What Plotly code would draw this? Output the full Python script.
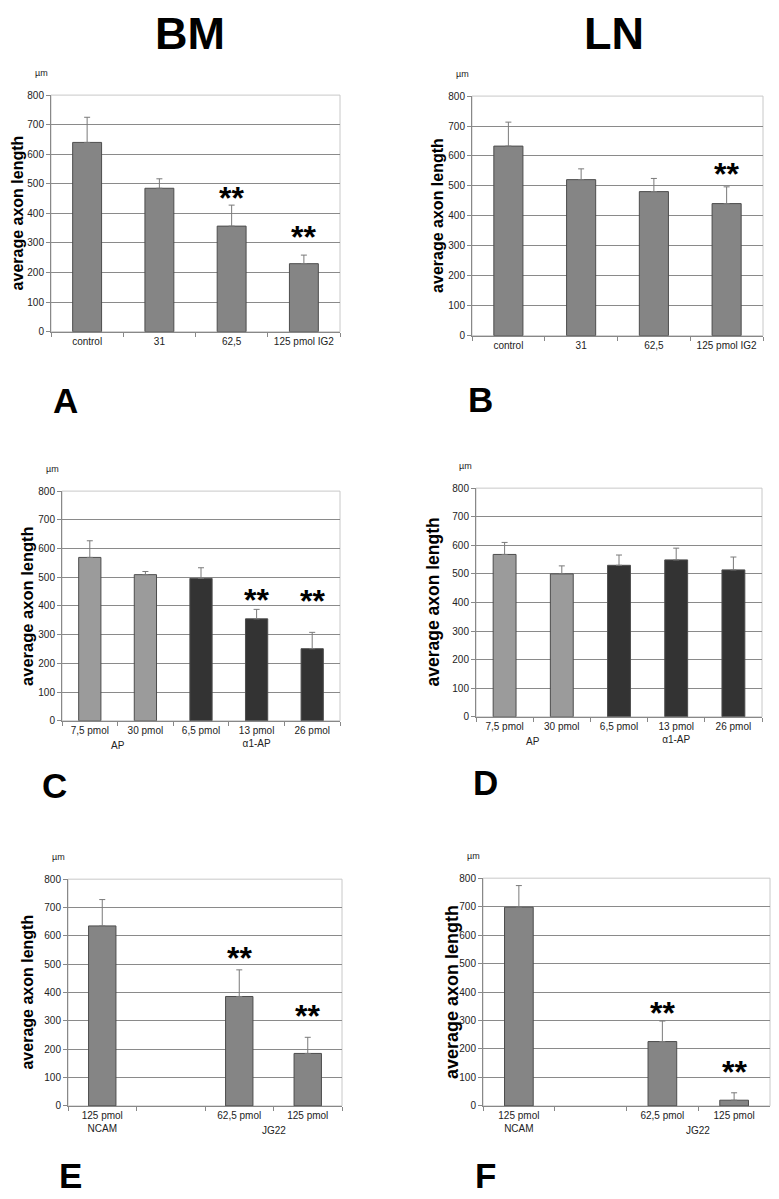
import plotly.graph_objects as go

W, H = 779, 1199
FONT = "Arial, Liberation Sans, sans-serif"

# ---- data ----
A_LABELS = ["control", "31", "62,5", "125 pmol IG2"]
A_MEAN = [640, 485, 357, 230]
A_SD = [85, 32, 71, 29]
A_STARS = [None, None, 463, 331]

B_LABELS = ["control", "31", "62,5", "125 pmol IG2"]
B_MEAN = [633, 521, 481, 441]
B_SD = [80, 36, 44, 56]
B_STARS = [None, None, None, 550]

C_LABELS = ["7,5 pmol", "30 pmol", "6,5 pmol", "13 pmol<br>α1-AP", "26 pmol"]
C_MEAN = [569, 509, 496, 355, 251]
C_SD = [58, 11, 37, 33, 57]
C_STARS = [None, None, None, 432, 428]

D_LABELS = ["7,5 pmol", "30 pmol", "6,5 pmol", "13 pmol<br>α1-AP", "26 pmol"]
D_MEAN = [568, 500, 530, 549, 514]
D_SD = [42, 28, 36, 41, 45]
D_STARS = [None, None, None, None, None]

E_LABELS = ["125 pmol<br>NCAM", "", "62,5 pmol", "125 pmol"]
E_MEAN = [635, None, 386, 185]
E_SD = [93, None, 94, 57]
E_STARS = [None, None, 533, 329]

F_LABELS = ["125 pmol<br>NCAM", "", "62,5 pmol", "125 pmol"]
F_MEAN = [698, None, 226, 20]
F_SD = [76, None, 72, 26]
F_STARS = [None, None, 336, 130]

AP_GROUP = ["AP", "AP", "α1-AP", "α1-AP", "α1-AP"]
Y_TICKS = [0, 100, 200, 300, 400, 500, 600, 700, 800]

MID_GREY = "#858585"
LIGHT_GREY = "#9b9b9b"
DARK_GREY = "#333333"

# panel boxes in pixels: (left, right, top, bottom)
BOXES = {
    "A": (51, 340, 90, 329),
    "B": (472, 763, 91, 333),
    "C": (62, 340, 490, 722),
    "D": (476, 762, 487, 718),
    "E": (68, 342, 882, 1111),
    "F": (483, 770, 881, 1111),
}
# y title: (centre x in px, font size)
YTITLE = {"A": (17, 16), "B": (438, 16), "C": (27, 16.5),
          "D": (433, 17.5), "E": (28, 16), "F": (452, 18)}


def px(x, y):
    return x / W, 1 - y / H


panels = [
    ("A", A_LABELS, A_MEAN, A_SD, A_STARS, None),
    ("B", B_LABELS, B_MEAN, B_SD, B_STARS, None),
    ("C", C_LABELS, C_MEAN, C_SD, C_STARS, AP_GROUP),
    ("D", D_LABELS, D_MEAN, D_SD, D_STARS, AP_GROUP),
    ("E", E_LABELS, E_MEAN, E_SD, E_STARS, None),
    ("F", F_LABELS, F_MEAN, F_SD, F_STARS, None),
]

fig = go.Figure()
annotations = []
layout = {}

for i, (name, labels, mean, sd, stars, groups) in enumerate(panels):
    k = "" if i == 0 else str(i + 1)
    xa, ya = "x" + k, "y" + k
    keys = [f"{name}{j}" for j in range(len(labels))]
    if groups is None:
        colors = MID_GREY
    else:
        colors = [LIGHT_GREY if g == "AP" else DARK_GREY for g in groups]

    fig.add_trace(go.Bar(
        x=keys, y=mean, xaxis=xa, yaxis=ya,
        marker=dict(color=colors, line=dict(color="#4d4d4d", width=1)),
        error_y=dict(type="data", symmetric=False, array=sd,
                     arrayminus=[0] * len(sd), color="#7a7a7a",
                     thickness=1, width=3),
        showlegend=False, hoverinfo="skip",
    ))

    l, r, t, b = BOXES[name]
    x0, _ = px(l, 0)
    x1, _ = px(r, 0)
    _, y1 = px(0, t)
    _, y0 = px(0, b)

    layout["xaxis" + k] = dict(
        domain=[x0, x1], anchor=ya, type="category",
        categoryorder="array", categoryarray=keys,
        tickmode="array", tickvals=keys, ticktext=labels,
        tickson="boundaries", ticks="outside", ticklen=4, tickcolor="#888",
        showline=True, linecolor="#888", linewidth=1,
        mirror=False, showgrid=False, zeroline=False,
        tickfont=dict(family=FONT, size=10, color="#222"),
        fixedrange=True,
    )
    layout["yaxis" + k] = dict(
        domain=[y0, y1], anchor=xa, range=[0, 800],
        tickmode="array", tickvals=Y_TICKS,
        ticks="outside", ticklen=4, tickcolor="#888",
        showline=True, linecolor="#888", linewidth=1,
        showgrid=True, gridcolor="#8a8a8a", gridwidth=1, zeroline=False,
        tickfont=dict(family=FONT, size=10, color="#222"),
        fixedrange=True,
    )

    # light frame on top and right
    fig.add_shape(type="rect", xref=xa + " domain", yref=ya + " domain",
                  x0=0, x1=1, y0=0, y1=1,
                  line=dict(color="#c8c8c8", width=1), layer="below")

    # significance marks
    for j, s in enumerate(stars):
        if s is not None:
            annotations.append(dict(
                x=keys[j], y=s, xref=xa, yref=ya, text="<b>**</b>",
                showarrow=False, yanchor="middle", yshift=-3,
                font=dict(family=FONT, size=32, color="#000"),
            ))

    # group labels centred between categories
    if name in ("C", "D"):
        annotations.append(dict(
            x=0.5, y=0, xref=xa, yref=ya, text="AP", showarrow=False,
            yanchor="top", yshift=-17,
            font=dict(family=FONT, size=10, color="#222"),
        ))
    if name in ("E", "F"):
        annotations.append(dict(
            x=2.5, y=0, xref=xa, yref=ya, text="JG22", showarrow=False,
            yanchor="top", yshift=-17,
            font=dict(family=FONT, size=10, color="#222"),
        ))

    # y title and unit
    tx, tsize = YTITLE[name]
    ax_, ay_ = px(tx, (t + b) / 2)
    annotations.append(dict(
        x=ax_, y=ay_, xref="paper", yref="paper", textangle=-90,
        text="<b>average axon length</b>", showarrow=False,
        xanchor="center", yanchor="middle",
        font=dict(family=FONT, size=tsize, color="#000"),
    ))
    ux, uy = px(l - 10, t - 22)
    annotations.append(dict(
        x=ux, y=uy, xref="paper", yref="paper", text="µm", showarrow=False,
        xanchor="center", yanchor="middle",
        font=dict(family=FONT, size=9, color="#222"),
    ))

# column headers, anchored to the top edge so they stay inside the page
for text, cx in [("BM", 190), ("LN", 614)]:
    x, _ = px(cx, 0)
    annotations.append(dict(
        x=x, y=1, xref="paper", yref="paper", text=f"<b>{text}</b>",
        showarrow=False, xanchor="center", yanchor="top",
        font=dict(family=FONT, size=45, color="#000"),
    ))

# panel letters
for text, cx, cy in [("A", 65, 398), ("B", 480, 397), ("C", 55, 787),
                     ("D", 486, 784), ("E", 70, 1181), ("F", 485, 1181)]:
    x, y = px(cx, cy)
    annotations.append(dict(
        x=x, y=y, xref="paper", yref="paper", text=f"<b>{text}</b>",
        showarrow=False, xanchor="center", yanchor="middle",
        font=dict(family=FONT, size=35, color="#000"),
    ))

fig.update_layout(
    width=W, height=H, margin=dict(l=0, r=0, t=0, b=0),
    paper_bgcolor="white", plot_bgcolor="white",
    bargap=0.6, annotations=annotations, **layout,
)

fig.write_html(
    "out.html",
    config={"displayModeBar": False},
    post_script="document.body.style.margin='0';document.body.style.padding='0';"
                "document.body.style.overflow='hidden';",
)
